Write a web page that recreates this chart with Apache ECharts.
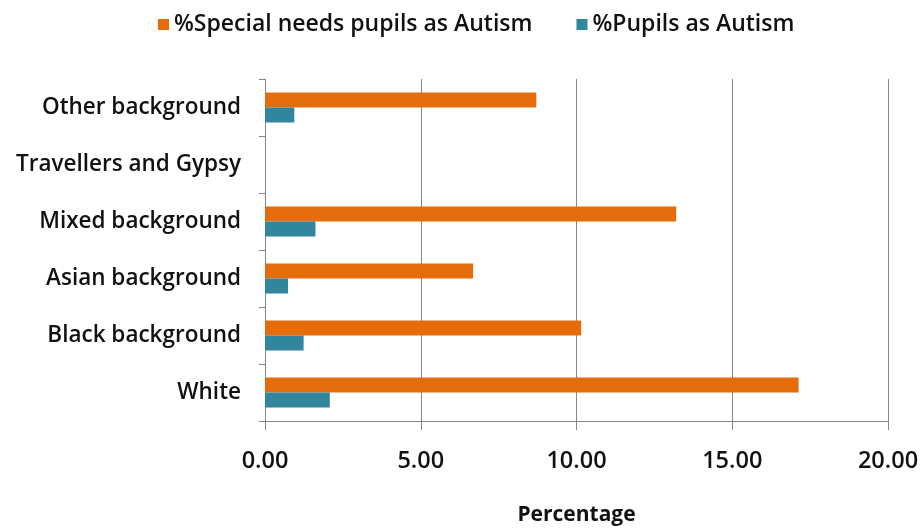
<!DOCTYPE html>
<html>
<head>
<meta charset="utf-8">
<style>
  html, body { margin: 0; padding: 0; background: #fff; }
  #chart { width: 921px; height: 529px; }
</style>
<script src="https://cdn.jsdelivr.net/npm/echarts@6/dist/echarts.min.js"></script>
</head>
<body>
<div id="chart"></div>
<script>
// Ethnic groups, listed bottom to top along the category axis
const categories = ['White', 'Black background', 'Asian background', 'Mixed background', 'Travellers and Gypsy', 'Other background'];
const specialNeedsAutism = [17.13, 10.15, 6.68, 13.2, 0, 8.71];
const pupilsAutism = [2.08, 1.24, 0.74, 1.62, 0, 0.94];
const xTicks = [0, 5, 10, 15, 20];

const FONT = '"Open Sans", Lato, sans-serif';
const chart = echarts.init(document.getElementById('chart'));

chart.setOption({
  animation: false,
  backgroundColor: '#ffffff',
  textStyle: { fontFamily: FONT, color: '#000' },
  legend: {
    top: 8,
    left: 153,
    itemWidth: 11,
    itemHeight: 11,
    itemGap: 44,
    icon: 'rect',
    textStyle: { fontSize: 23, fontWeight: 600, color: '#111', fontFamily: FONT },
    data: ['%Special needs pupils as Autism', '%Pupils as Autism']
  },
  grid: { left: 265, right: 33, top: 79, bottom: 108, containLabel: false, outerBoundsMode: 'none' },
  xAxis: {
    type: 'value',
    min: xTicks[0],
    max: xTicks[xTicks.length - 1],
    interval: 5,
    name: 'Percentage',
    nameLocation: 'middle',
    nameGap: 84,
    nameTextStyle: { fontSize: 21, fontWeight: 'bold', color: '#111', fontFamily: FONT },
    axisLine: { show: true, lineStyle: { color: '#868686', width: 1 } },
    axisTick: { show: true, length: 9, lineStyle: { color: '#868686' } },
    axisLabel: {
      margin: 28,
      fontSize: 23.5,
      fontWeight: 600,
      color: '#111',
      fontFamily: FONT,
      formatter: v => v.toFixed(2)
    },
    splitLine: { show: true, lineStyle: { color: '#868686', width: 1 } }
  },
  yAxis: {
    type: 'category',
    data: categories,
    axisLine: { show: true, lineStyle: { color: '#868686', width: 1 } },
    axisTick: { show: true, length: 6, lineStyle: { color: '#868686' } },
    axisLabel: { margin: 24, fontSize: 22.5, fontWeight: 600, color: '#111', fontFamily: FONT }
  },
  series: [
    {
      name: '%Special needs pupils as Autism',
      type: 'bar',
      data: specialNeedsAutism,
      barWidth: 15,
      barGap: '0%',
      itemStyle: { color: '#E46C0A' }
    },
    {
      name: '%Pupils as Autism',
      type: 'bar',
      data: pupilsAutism,
      barWidth: 15,
      barGap: '0%',
      itemStyle: { color: '#31859C' }
    }
  ]
});
</script>
</body>
</html>
